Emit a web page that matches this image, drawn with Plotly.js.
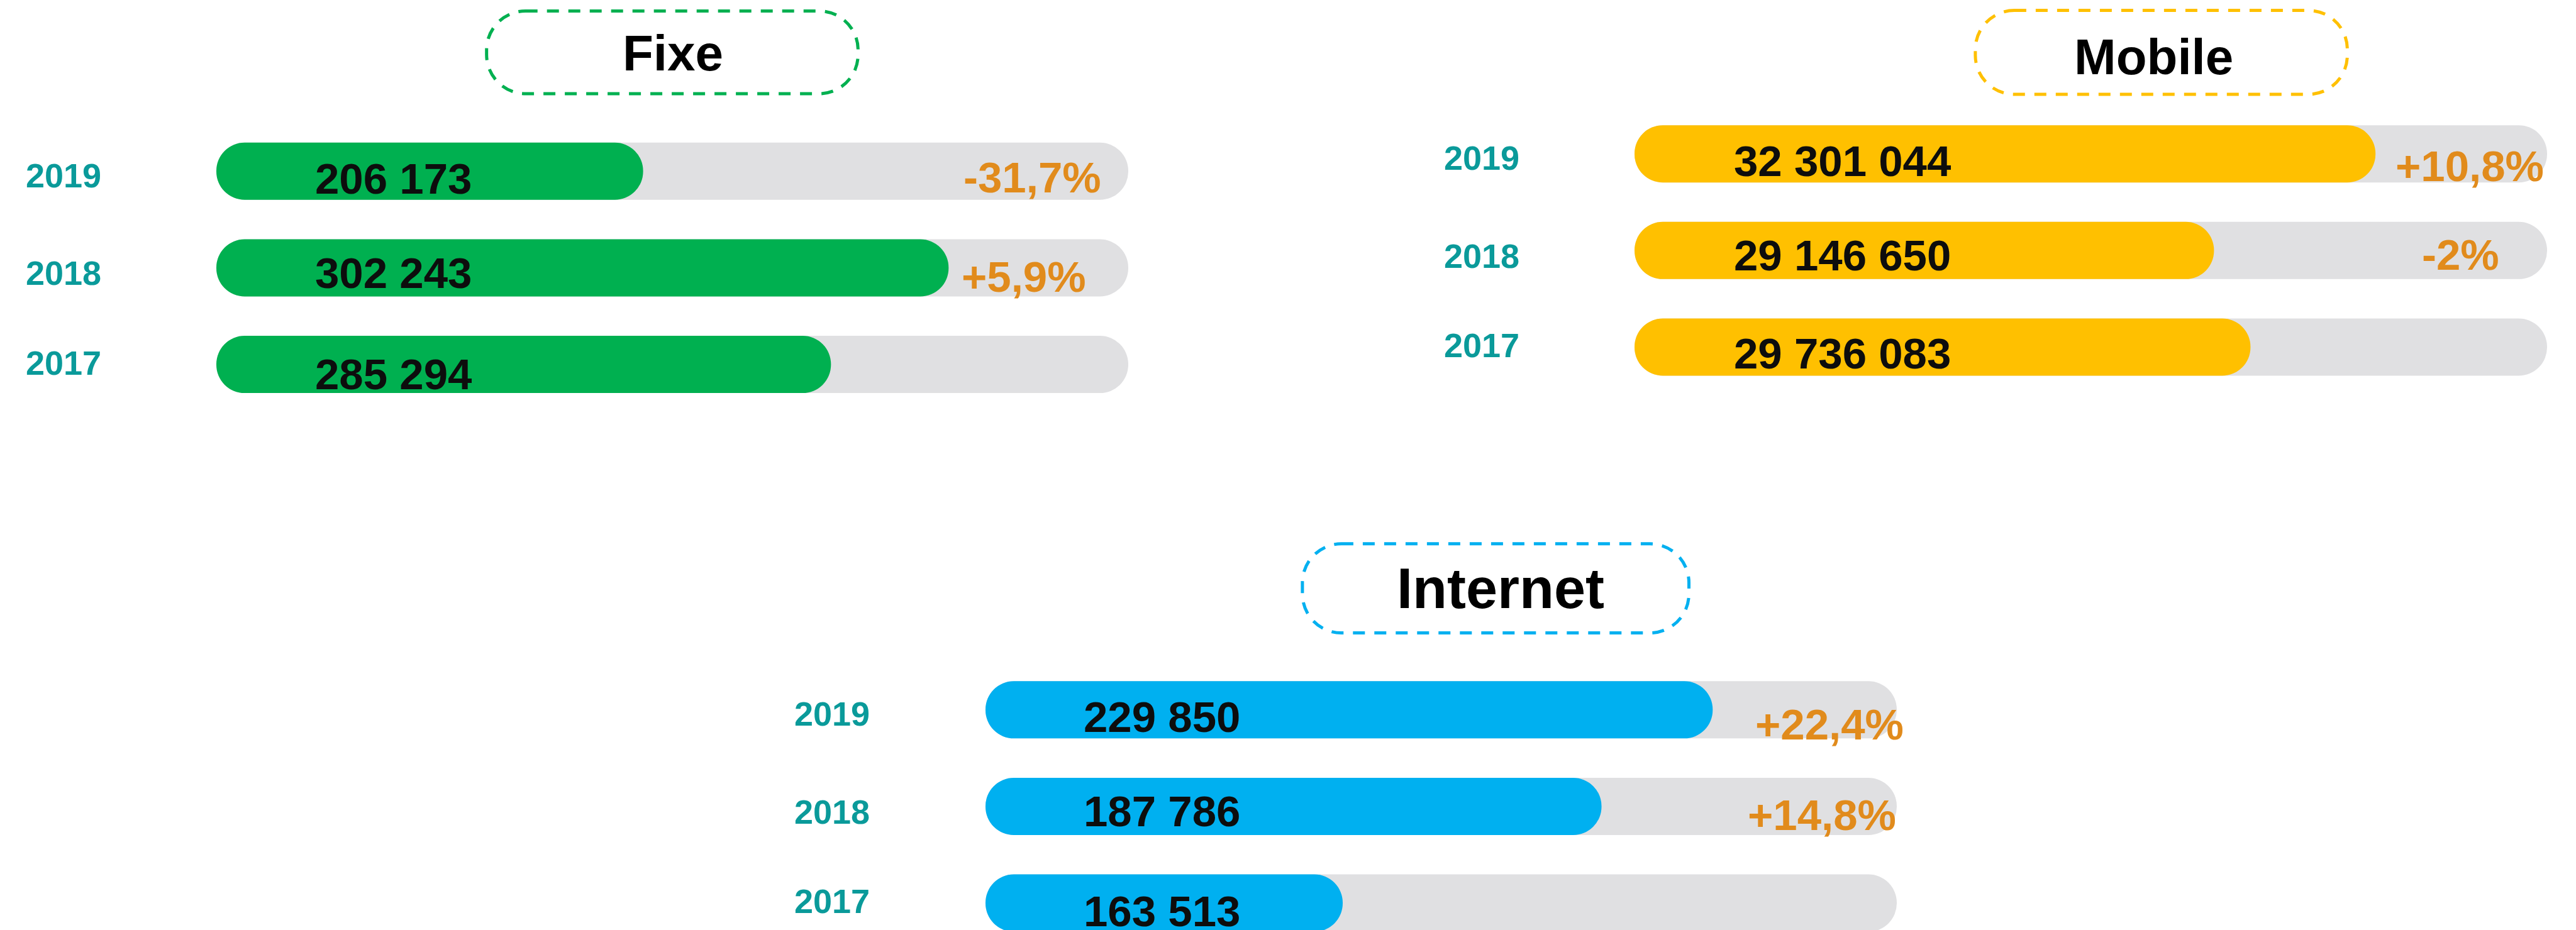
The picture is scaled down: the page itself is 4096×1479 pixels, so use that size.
<!DOCTYPE html>
<html>
<head>
<meta charset="utf-8">
<script src="https://cdn.plot.ly/plotly-3.0.1.min.js"></script>
<style>
html,body{margin:0;padding:0;background:#ffffff;overflow:hidden}
#chart{width:4096px;height:1479px}
</style>
</head>
<body>
<div id="chart"></div>
<script>
// ---------------- DATA ----------------
const years = ['2019', '2018', '2017'];
const panelTitles = ['Fixe', 'Mobile', 'Internet'];

const fixeValues = [206173, 302243, 285294];
const mobileValues = [32301044, 29146650, 29736083];
const internetValues = [229850, 187786, 163513];

// visible filled share of each grey track, in % (as drawn in the picture)
const fixeFill = [46.8, 80.3, 67.4];
const mobileFill = [81.2, 63.5, 67.5];
const internetFill = [79.8, 67.6, 39.2];

// year-on-year change labels
const fixeChange = [-31.7, 5.9, null];
const mobileChange = [10.8, -2, null];
const internetChange = [22.4, 14.8, null];

// ---------------- LAYOUT / STYLE ----------------
const W = 4096, H = 1479;
const FONT = 'Liberation Sans, Arial, Helvetica, sans-serif';
const TRACK = '#E0E0E2';
const YEAR_COL = '#0A9A9A';
const PCT_COL = '#E18B1C';
const BAR_PX = 91;

const panels = [
  { title: panelTitles[0], values: fixeValues, fill: fixeFill, change: fixeChange, color: '#00B050',
    trackL: 344, trackR: 1794, rows: [272.3, 424.1, 579.6], yearX: 38.6, valueX: 498.6,
    valueDy: [12, 10.1, 15.6], pctRight: [1752.6, 1728.7], pctDy: [10.7, 16.6],
    box: [773.7, 17.5, 1364.4, 149], titleXY: [1070, 84.2], titleSize: 80 },
  { title: panelTitles[1], values: mobileValues, fill: mobileFill, change: mobileChange, color: '#FFC000',
    trackL: 2599, trackR: 4050, rows: [244.7, 396.5, 552], yearX: 2293.6, valueX: 2754.5,
    valueDy: [12, 10.1, 10.1], pctRight: [4047, 3976.2], pctDy: [19.3, 9.2],
    box: [3140.9, 16.6, 3732.4, 150], titleXY: [3424, 90.6], titleSize: 80 },
  { title: panelTitles[2], values: internetValues, fill: internetFill, change: internetChange, color: '#00B0F0',
    trackL: 1567, trackR: 3016, rows: [1128.8, 1280.6, 1436.1], yearX: 1261.3, valueX: 1721.3,
    valueDy: [12, 10.2, 13.5], pctRight: [3028.6, 3016.7], pctDy: [24, 15.7],
    box: [2070.9, 864.8, 2685.5, 1006.5], titleXY: [2385.6, 935.6], titleSize: 90 }
];
const yearDy = [6.5, 10.1, -2.8];

function fmtInt(v) { return String(v).replace(/\B(?=(\d{3})+(?!\d))/g, ' '); }
function fmtPct(v) {
  if (v === null || v === undefined) return '';
  const s = (Math.round(v * 10) / 10).toString().replace('.', ',');
  return (v > 0 ? '+' : '') + s + '%';
}
const px = x => x / W;
const py = y => 1 - y / H;

function roundRectPath(x0, y0, x1, y1, r) {
  const k = 0.5523 * r;
  const P = (x, y) => px(x).toFixed(6) + ',' + py(y).toFixed(6);
  return 'M' + P(x0 + r, y0) +
    ' L' + P(x1 - r, y0) +
    ' C' + P(x1 - r + k, y0) + ' ' + P(x1, y0 + r - k) + ' ' + P(x1, y0 + r) +
    ' L' + P(x1, y1 - r) +
    ' C' + P(x1, y1 - r + k) + ' ' + P(x1 - r + k, y1) + ' ' + P(x1 - r, y1) +
    ' L' + P(x0 + r, y1) +
    ' C' + P(x0 + r - k, y1) + ' ' + P(x0, y1 - r + k) + ' ' + P(x0, y1 - r) +
    ' L' + P(x0, y0 + r) +
    ' C' + P(x0, y0 + r - k) + ' ' + P(x0 + r - k, y0) + ' ' + P(x0 + r, y0) + ' Z';
}

const data = [];
const layout = {
  width: W, height: H,
  margin: { l: 0, r: 0, t: 0, b: 0, pad: 0 },
  paper_bgcolor: '#ffffff', plot_bgcolor: 'rgba(0,0,0,0)',
  showlegend: false, barmode: 'overlay',
  annotations: [], shapes: [],
  font: { family: FONT }
};

panels.forEach((p, i) => {
  const n = i + 1;
  const xa = 'x' + (n === 1 ? '' : n), ya = 'y' + (n === 1 ? '' : n);
  const xk = 'xaxis' + (n === 1 ? '' : n), yk = 'yaxis' + (n === 1 ? '' : n);
  const s = (p.rows[2] - p.rows[0]) / 2;
  const top = p.rows[0] - s / 2;
  let bot = p.rows[2] + s / 2, rmin = -0.5;
  if (bot > H) { rmin = -0.5 + (bot - H) / s; bot = H; }
  layout[xk] = { domain: [px(p.trackL), px(p.trackR)], range: [0, 100], visible: false, fixedrange: true, anchor: ya };
  layout[yk] = { domain: [py(bot), py(top)], range: [rmin, 2.5], type: 'category',
    categoryorder: 'array', categoryarray: years.slice().reverse(), visible: false, fixedrange: true, anchor: xa };
  const w = BAR_PX / s;
  const common = { type: 'bar', orientation: 'h', y: years, xaxis: xa, yaxis: ya, width: years.map(() => w),
    hoverinfo: 'skip', showlegend: false };
  // grey track (full length) and coloured fill, both pill-shaped
  data.push(Object.assign({}, common, { base: years.map(() => 0), x: years.map(() => 100),
    marker: { color: TRACK, cornerradius: '50%', line: { width: 0 } } }));
  data.push(Object.assign({}, common, { base: years.map(() => 0), x: p.fill,
    marker: { color: p.color, cornerradius: '50%', line: { width: 0 } } }));

  years.forEach((yr, k) => {
    layout.annotations.push({ xref: 'paper', yref: 'paper', x: px(p.yearX), y: py(p.rows[k] + yearDy[k]),
      xanchor: 'left', yanchor: 'middle', showarrow: false, text: yr,
      font: { family: FONT, size: 54, color: YEAR_COL, weight: 'bold' } });
    layout.annotations.push({ xref: 'paper', yref: 'paper', x: px(p.valueX), y: py(p.rows[k] + p.valueDy[k]),
      xanchor: 'left', yanchor: 'middle', showarrow: false, text: fmtInt(p.values[k]),
      font: { family: FONT, size: 69, color: '#0D0D0D', weight: 'bold' } });
    const t = fmtPct(p.change[k]);
    if (t) {
      layout.annotations.push({ xref: 'paper', yref: 'paper', x: px(p.pctRight[k]), y: py(p.rows[k] + p.pctDy[k]),
        xanchor: 'right', yanchor: 'middle', showarrow: false, text: t,
        font: { family: FONT, size: 69, color: PCT_COL, weight: 'bold' } });
    }
  });

  layout.shapes.push({ type: 'path', xref: 'paper', yref: 'paper',
    path: roundRectPath(p.box[0], p.box[1], p.box[2], p.box[3], 62),
    line: { color: p.color, width: 5, dash: '19px,15px' }, fillcolor: 'rgba(0,0,0,0)' });
  layout.annotations.push({ xref: 'paper', yref: 'paper', x: px(p.titleXY[0]), y: py(p.titleXY[1]),
    xanchor: 'center', yanchor: 'middle', showarrow: false, text: p.title,
    font: { family: FONT, size: p.titleSize, color: '#000000', weight: 'bold' } });
});

Plotly.newPlot('chart', data, layout, { staticPlot: true, displayModeBar: false });
</script>
</body>
</html>
